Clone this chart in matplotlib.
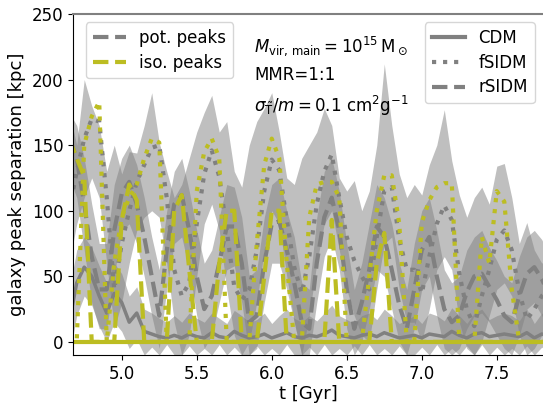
import numpy as np
import matplotlib
matplotlib.use("Agg")
import matplotlib.pyplot as plt
from matplotlib.lines import Line2D

# time grid [Gyr]
t = [4.65, 4.70, 4.75, 4.80, 4.85, 4.90, 4.95, 5.00, 5.05, 5.10,
     5.15, 5.20, 5.25, 5.30, 5.35, 5.40, 5.45, 5.50, 5.55, 5.60,
     5.65, 5.70, 5.75, 5.80, 5.85, 5.90, 5.95, 6.00, 6.05, 6.10,
     6.15, 6.20, 6.25, 6.30, 6.35, 6.40, 6.45, 6.50, 6.55, 6.60,
     6.65, 6.70, 6.75, 6.80, 6.85, 6.90, 6.95, 7.00, 7.05, 7.10,
     7.15, 7.20, 7.25, 7.30, 7.35, 7.40, 7.45, 7.50, 7.55, 7.60,
     7.65, 7.70, 7.75, 7.80, 7.85]

# potential peaks
pot_cdm = [15, 45, 57, 50, 35, 22, 37, 30, 15, 22,
           8, 6, 4, 3, 5, 3, 6, 4, 3, 7,
           4, 3, 8, 5, 3, 4, 6, 3, 5, 7,
           4, 3, 5, 4, 6, 9, 5, 4, 3, 5,
           6, 4, 7, 5, 3, 4, 5, 3, 6, 5,
           4, 8, 5, 3, 6, 7, 4, 5, 6, 5,
           4, 7, 3, 6, 4]
pot_fsidm = [100, 130, 155, 170, 168, 110, 40, 75, 100, 122,
             135, 148, 150, 110, 55, 35, 45, 90, 128, 146,
             126, 85, 42, 32, 40, 70, 115, 139, 131, 93,
             57, 37, 65, 105, 130, 143, 110, 80, 62, 50,
             40, 80, 115, 118, 78, 55, 55, 37, 65, 90,
             104, 93, 52, 25, 12, 35, 55, 78, 85, 70,
             38, 17, 25, 35, 40]
pot_rsidm = [155, 140, 105, 65, 40, 40, 85, 113, 122, 105,
             80, 50, 20, 70, 105, 112, 85, 50, 25, 35,
             60, 88, 88, 60, 15, 20, 60, 90, 92, 70,
             45, 15, 10, 60, 95, 110, 85, 40, 10, 30,
             55, 88, 80, 55, 28, 10, 40, 70, 80, 50,
             25, 15, 20, 38, 50, 52, 42, 32, 20, 15,
             35, 52, 57, 48, 35]

# isodensity peaks
iso_cdm = [0, 0, 0, 0, 0, 0, 0, 0, 0, 0,
           0, 0, 0, 0, 0, 0, 0, 0, 0, 0,
           0, 0, 0, 0, 0, 0, 0, 0, 0, 0,
           0, 0, 0, 0, 0, 0, 0, 0, 0, 0,
           0, 0, 0, 0, 0, 0, 0, 0, 0, 0,
           0, 0, 0, 0, 0, 0, 0, 0, 0, 0,
           0, 0, 0, 0, 0]
iso_fsidm = [0, 0, 150, 172, 183, 0, 60, 95, 110, 120,
             140, 155, 152, 0, 0, 0, 0, 115, 145, 155,
             140, 0, 0, 0, 0, 75, 135, 155, 140, 60,
             0, 0, 95, 120, 122, 122, 110, 0, 0, 0,
             50, 100, 127, 127, 90, 0, 0, 91, 108, 118,
             121, 121, 0, 0, 0, 80, 60, 115, 107, 40,
             0, 0, 0, 0, 0]
iso_rsidm = [155, 140, 126, 0, 0, 0, 0, 93, 120, 108,
             0, 0, 0, 0, 100, 112, 55, 0, 0, 0,
             60, 100, 100, 0, 0, 0, 50, 100, 100, 0,
             0, 0, 0, 0, 0, 93, 0, 0, 0, 0,
             0, 60, 83, 0, 0, 0, 0, 0, 0, 0,
             0, 0, 0, 0, 0, 0, 0, 0, 0, 0,
             0, 0, 0, 0, 0]

# scatter bands of the potential peaks
band_f_hi = [175, 150, 200, 180, 165, 130, 150, 128, 145, 144,
             165, 190, 152, 130, 110, 120, 140, 160, 175, 188,
             160, 168, 130, 118, 150, 168, 178, 190, 160, 125,
             120, 140, 150, 160, 178, 165, 125, 115, 123, 100,
             115, 150, 212, 165, 128, 110, 120, 112, 135, 150,
             177, 138, 112, 95, 110, 118, 105, 134, 136, 110,
             75, 91, 70, 60, 65]
band_f_lo = [60, 90, 110, 125, 110, 60, 10, 30, 60, 85,
             95, 100, 95, 60, 15, -10, 5, 50, 90, 105,
             85, 40, 5, -10, 0, 30, 70, 100, 90, 50,
             15, -10, 20, 60, 90, 100, 70, 40, 20, 5,
             0, 40, 75, 80, 40, 15, 15, 0, 25, 55,
             65, 55, 15, -5, -10, 0, 20, 40, 45, 35,
             5, -10, -5, 5, 10]
band_r_hi = [175, 165, 140, 105, 75, 75, 120, 140, 150, 135,
             110, 80, 55, 100, 130, 140, 115, 85, 60, 70,
             95, 120, 118, 95, 50, 55, 95, 120, 125, 100,
             80, 45, 40, 95, 130, 140, 115, 75, 40, 60,
             90, 120, 110, 90, 60, 40, 75, 100, 110, 85,
             55, 45, 50, 70, 80, 85, 72, 62, 50, 45,
             65, 80, 85, 78, 65]
band_r_lo = [125, 110, 70, 30, 10, 10, 50, 85, 90, 75,
             50, 20, -5, 40, 75, 80, 55, 20, -5, 5,
             30, 55, 58, 30, -10, -5, 30, 60, 60, 40,
             15, -10, -10, 30, 65, 80, 55, 10, -10, 0,
             25, 55, 50, 25, 0, -10, 10, 40, 50, 20,
             -5, -10, -5, 10, 20, 22, 15, 5, -5, -10,
             5, 25, 30, 20, 10]
band_c_hi = [40, 70, 80, 72, 58, 45, 60, 52, 35, 42,
             25, 22, 18, 15, 20, 15, 22, 18, 15, 22,
             18, 14, 24, 20, 15, 17, 22, 14, 20, 25,
             18, 15, 20, 16, 22, 28, 20, 17, 14, 20,
             22, 17, 25, 20, 14, 17, 20, 14, 22, 20,
             16, 26, 20, 14, 22, 25, 17, 20, 22, 20,
             16, 25, 14, 22, 17]
band_c_lo = [-10, 20, 35, 28, 12, 0, 15, 8, -5, 2,
             -10, -4, -10, -2, -10, -10, -3, -10, -5, -10,
             -2, -10, -4, -10, -10, -3, -10, -5, -10, -2,
             -10, -10, -4, -10, -2, -10, -5, -10, -3, -10,
             -2, -10, -5, -10, -3, -10, -10, -4, -10, -2,
             -10, -5, -10, -3, -10, -2, -10, -4, -10, -5,
             -10, -3, -10, -4, -10]

legend_left = ["pot. peaks", "iso. peaks"]
legend_right = ["CDM", "fSIDM", "rSIDM"]

c_pot = "gray"
c_iso = "tab:olive"

fig = plt.figure(figsize=(5.43, 4.04), dpi=100)
ax = fig.add_axes([0.1344, 0.1213, 0.8656, 0.844])

for lo, hi in [(band_c_lo, band_c_hi), (band_f_lo, band_f_hi), (band_r_lo, band_r_hi)]:
    ax.fill_between(t, lo, hi, color="gray", alpha=0.5, lw=0)

lw = 3
ax.plot(t, pot_cdm, color=c_pot, lw=2.5, ls="-")
ax.plot(t, pot_fsidm, color=c_pot, lw=lw, ls=":")
ax.plot(t, pot_rsidm, color=c_pot, lw=lw, ls="--")
ax.plot(t, iso_cdm, color=c_iso, lw=lw, ls="-")
ax.plot(t, iso_fsidm, color=c_iso, lw=lw, ls=":")
ax.plot(t, iso_rsidm, color=c_iso, lw=lw, ls="--")

ax.set_xlim(4.675, 7.808)
ax.set_ylim(-10, 250)
ax.set_xticks([5.0, 5.5, 6.0, 6.5, 7.0, 7.5])
ax.set_yticks([0, 50, 100, 150, 200, 250])
ax.tick_params(labelsize=12)
ax.set_xlabel("t [Gyr]", fontsize=13, labelpad=2)
ax.set_ylabel("galaxy peak separation [kpc]", fontsize=13, labelpad=4)
ax.spines["top"].set_color("gray")
ax.spines["top"].set_linewidth(1.5)
ax.spines["right"].set_visible(False)

h1 = [Line2D([], [], color=c_pot, lw=lw, ls="--"),
      Line2D([], [], color=c_iso, lw=lw, ls="--")]
leg1 = ax.legend(h1, legend_left, loc="upper left", bbox_to_anchor=(0.01, 1.0),
                 fontsize=12, handlelength=2.0, labelspacing=0.4)
ax.add_artist(leg1)
h2 = [Line2D([], [], color=c_pot, lw=lw, ls="-"),
      Line2D([], [], color=c_pot, lw=lw, ls=":"),
      Line2D([], [], color=c_pot, lw=lw, ls="--")]
ax.legend(h2, legend_right, loc="upper right", bbox_to_anchor=(1.0, 1.0),
          fontsize=12, handlelength=2.0, labelspacing=0.4)

ax.text(0.385, 0.905, r"$M_{\rm vir,\,main}=10^{15}\,{\rm M}_\odot$", transform=ax.transAxes,
        fontsize=12, va="center")
ax.text(0.385, 0.82, "MMR=1:1", transform=ax.transAxes, fontsize=12, va="center")
ax.text(0.385, 0.73, r"$\sigma_{\tilde{\rm T}}/m=0.1\ {\rm cm}^2{\rm g}^{-1}$",
        transform=ax.transAxes, fontsize=12, va="center")

fig.savefig("out.png", dpi=100)
